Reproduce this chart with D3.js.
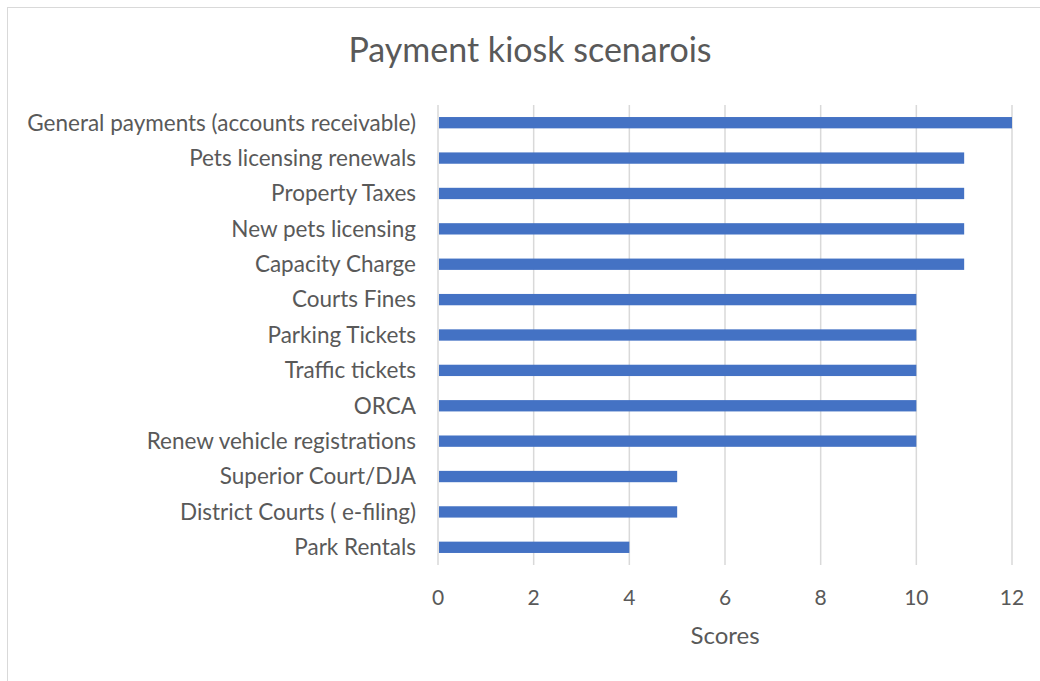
<!DOCTYPE html>
<html>
<head>
<meta charset="utf-8">
<style>
  body { margin: 0; background: #fff; }
  svg text { font-family: Lato, "Open Sans", sans-serif; fill: #595959; }
  .grid line { stroke: #d9d9d9; stroke-width: 1.5; }
  .bars rect { fill: #4472c4; }
</style>
</head>
<body>
<div id="chart"></div>
<script src="https://d3js.org/d3.v7.min.js"></script>
<script>
var categories = [
  'General payments (accounts receivable)',
  'Pets licensing renewals',
  'Property Taxes',
  'New pets licensing ',
  'Capacity Charge',
  'Courts Fines',
  'Parking Tickets',
  'Traffic tickets',
  'ORCA',
  'Renew vehicle registrations',
  'Superior Court/DJA',
  'District Courts ( e-filing)',
  'Park Rentals'
];
var scores = [12, 11, 11, 11, 11, 10, 10, 10, 10, 10, 5, 5, 4];
var xTicks = [0, 2, 4, 6, 8, 10, 12];

var width = 1040;
var height = 681;
var margin = { top: 105, right: 28, bottom: 116, left: 438 };

var svg = d3.select('#chart').append('svg')
    .attr('width', width)
    .attr('height', height);

// chart frame
svg.append('rect')
    .attr('x', 7.5).attr('y', 7.5)
    .attr('width', width).attr('height', height)
    .attr('fill', 'none')
    .attr('stroke', '#d9d9d9');

var x = d3.scaleLinear()
    .domain([0, 12])
    .range([margin.left, width - margin.right]);

var y = d3.scaleBand()
    .domain(categories)
    .range([margin.top, height - margin.bottom])
    .paddingInner(0.68)
    .paddingOuter(0.34);

svg.append('g')
    .attr('class', 'grid')
  .selectAll('line')
    .data(xTicks)
    .enter().append('line')
    .attr('x1', function (d) { return x(d); })
    .attr('x2', function (d) { return x(d); })
    .attr('y1', margin.top)
    .attr('y2', height - margin.bottom);

svg.append('g')
    .attr('class', 'bars')
  .selectAll('rect')
    .data(categories)
    .enter().append('rect')
    .attr('x', x(0) + 1)
    .attr('y', function (d) { return y(d); })
    .attr('width', function (d, i) { return x(scores[i]) - x(0) - 1; })
    .attr('height', y.bandwidth());

// category labels
svg.append('g')
  .selectAll('text')
    .data(categories)
    .enter().append('text')
    .attr('x', margin.left - 22)
    .attr('y', function (d) { return y(d) + y.bandwidth() / 2; })
    .attr('dy', '0.35em')
    .attr('text-anchor', 'end')
    .style('font-size', '22.5px')
    .text(function (d) { return d; });

// x tick labels
svg.append('g')
  .selectAll('text')
    .data(xTicks)
    .enter().append('text')
    .attr('x', function (d) { return x(d); })
    .attr('y', 598)
    .attr('dy', '0.35em')
    .attr('text-anchor', 'middle')
    .style('font-size', '21px')
    .text(function (d) { return d; });

svg.append('text')
    .attr('x', (x(0) + x(12)) / 2)
    .attr('y', 636)
    .attr('dy', '0.35em')
    .attr('text-anchor', 'middle')
    .style('font-size', '24px')
    .text('Scores');

svg.append('text')
    .attr('x', 530)
    .attr('y', 50)
    .attr('dy', '0.35em')
    .attr('text-anchor', 'middle')
    .style('font-size', '34px')
    .text('Payment kiosk scenarois');
</script>
</body>
</html>
